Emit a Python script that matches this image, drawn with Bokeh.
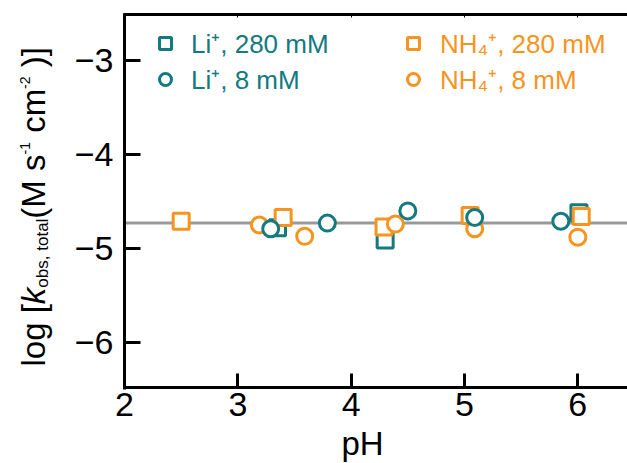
import math
from bokeh.plotting import figure
from bokeh.core.properties import value
from bokeh.models import (Range1d, LinearAxis, FixedTicker, Legend, LegendItem)
from bokeh.embed import file_html
from bokeh.resources import INLINE

# ---------------- data ----------------
li280_ph = [3.35, 4.30, 6.01]
li280_logk = [-4.78, -4.91, -4.62]

li8_ph = [3.29, 3.79, 4.50, 5.09, 5.85]
li8_logk = [-4.79, -4.73, -4.60, -4.67, -4.71]

nh280_ph = [2.50, 3.40, 4.29, 5.05, 6.03]
nh280_logk = [-4.71, -4.67, -4.77, -4.65, -4.66]

nh8_ph = [3.19, 3.59, 4.39, 5.09, 6.00]
nh8_logk = [-4.75, -4.87, -4.74, -4.79, -4.88]

mean_logk = -4.73

x_ticks = [2, 3, 4, 5, 6]
x_tick_labels = ["2", "3", "4", "5", "6"]
y_ticks = [-6, -5, -4, -3]
y_tick_labels = ["\u22126", "\u22125", "\u22124", "\u22123"]

legend_labels = ["Li\u207a, 280 mM", "Li\u207a, 8 mM",
                 "NH\u2084\u207a, 280 mM", "NH\u2084\u207a, 8 mM"]
x_label = "pH"
y_label_parts = ["log [", "k", "obs, total", "(M s", "-1", " cm", "-2", " )]"]

# ---------------- style / layout ----------------
FONT = "Liberation Sans"
TEAL = "#127a80"
ORANGE = "#f7941e"
GRAY = "#999999"

W, H = 627, 463
AX_LEFT_PX, AX_TOP_PX, AX_BOTTOM_PX = 124, 14, 387
PXU_X, PXU_Y = 113.33, 94.0          # pixels per unit
REF_X_PX, REF_Y_PX = 124, 60          # x=2 and y=-3 pixel positions
MID = 0.35                            # baseline -> middle offset (em)


def dx(px):
    return 2 + (px - REF_X_PX) / PXU_X


def dy(py):
    return -3 - (py - REF_Y_PX) / PXU_Y


X_START, X_END = dx(0), dx(W)
Y_START, Y_END = dy(H), dy(0)
AX_X0 = dx(AX_LEFT_PX)
AX_Y0, AX_Y1 = dy(AX_BOTTOM_PX), dy(AX_TOP_PX)

p = figure(width=W, height=H, x_range=Range1d(X_START, X_END),
           y_range=Range1d(Y_START, Y_END), output_backend="svg",
           toolbar_location=None, min_border=0, min_border_left=0,
           min_border_right=0, min_border_top=0, min_border_bottom=0,
           x_axis_location=None, y_axis_location=None)
p.title.visible = False
p.outline_line_color = None
p.background_fill_color = "white"
p.border_fill_color = "white"
for g in p.grid:
    g.visible = False


def style_axis(ax, tick_in, width=3):
    ax.axis_line_width = 3
    ax.axis_line_color = "black"
    ax.major_tick_line_width = width
    ax.major_tick_line_color = "black"
    ax.major_tick_in = tick_in
    ax.major_tick_out = 0
    ax.minor_tick_line_color = None
    ax.major_label_text_font = FONT
    ax.major_label_text_font_size = "34px"
    ax.major_label_text_color = "black"


ex_x = 1.5 / PXU_X
ex_y = 1.5 / PXU_Y

xb = LinearAxis(ticker=FixedTicker(ticks=x_ticks), fixed_location=AX_Y0,
                bounds=(AX_X0 - ex_x, X_END),
                major_label_overrides=dict(zip(x_ticks, x_tick_labels)))
style_axis(xb, 14)
xb.major_label_standoff = 5
p.add_layout(xb, "below")

yl = LinearAxis(ticker=FixedTicker(ticks=y_ticks), fixed_location=AX_X0,
                bounds=(AX_Y0 - ex_y, AX_Y1 + ex_y),
                major_label_overrides=dict(zip(y_ticks, y_tick_labels)))
style_axis(yl, 16)
yl.major_label_standoff = 11
p.add_layout(yl, "left")

xt = LinearAxis(ticker=FixedTicker(ticks=x_ticks), fixed_location=AX_Y1,
                bounds=(AX_X0 - ex_x, X_END),
                major_label_overrides={t: "" for t in x_ticks})
style_axis(xt, 3, width=1)
xt.major_label_standoff = 0
p.add_layout(xt, "above")

p.segment(x0=[AX_X0], y0=[mean_logk], x1=[X_END], y1=[mean_logk],
          line_color=GRAY, line_width=3)

mk = dict(size=16, line_width=3, fill_color="white")
r_li280 = p.scatter(li280_ph, li280_logk, marker="square", line_color=TEAL, **mk)
r_nh280 = p.scatter(nh280_ph, nh280_logk, marker="square", line_color=ORANGE, **mk)
r_nh8 = p.scatter(nh8_ph, nh8_logk, marker="circle", line_color=ORANGE, **mk)
r_li8 = p.scatter(li8_ph, li8_logk, marker="circle", line_color=TEAL, **mk)


def make_legend(items, color, left_px, standoff):
    lg = Legend(items=items, location=(left_px, H - 97),
                orientation="vertical",
                glyph_width=30, glyph_height=30, label_height=30,
                label_standoff=standoff, spacing=0, padding=0, margin=0,
                border_line_color=None, background_fill_alpha=0,
                label_text_font=FONT, label_text_font_size="26px",
                label_text_color=color)
    p.add_layout(lg, "center")


make_legend([LegendItem(label=legend_labels[0], renderers=[r_li280]),
             LegendItem(label=legend_labels[1], renderers=[r_li8])],
            TEAL, 150, 11)
make_legend([LegendItem(label=legend_labels[2], renderers=[r_nh280]),
             LegendItem(label=legend_labels[3], renderers=[r_nh8])],
            ORANGE, 398, 12)

# ---------------- rotated y-axis label with sub/superscripts ----------------
AFM = {' ': 278, '[': 278, ']': 278, '(': 333, ')': 333, 'l': 222, 'o': 556,
       'g': 556, 'k': 500, 'b': 556, 's': 500, ',': 278, 't': 278, 'a': 556,
       'M': 833, 'c': 500, 'm': 833, '1': 556, '2': 556, '-': 333}


def tw(s, size):
    return sum(AFM.get(ch, 556) for ch in s) * size / 1000.0


# (font size px, style, baseline x in canvas px)
piece_fmt = [(33, "normal", 45), (33, "italic", 45), (17, "normal", 48),
             (33, "normal", 45), (14, "normal", 29), (33, "normal", 45),
             (14, "normal", 29), (33, "normal", 45)]
cursor = 366.0          # canvas y (from top) where the label starts
for text, (size, style, base) in zip(y_label_parts, piece_fmt):
    stripped = text.lstrip(" ")
    cursor -= tw(text[:len(text) - len(stripped)], size)
    p.text(x=[dx(base - MID * size)], y=[dy(cursor)], text=[stripped],
           angle=math.pi / 2,
           text_align=value("left"), text_baseline=value("middle"),
           text_font=value(FONT), text_font_size=value(f"{size}px"),
           text_font_style=value(style), text_color=value("black"))
    cursor -= tw(stripped, size)

# ---------------- x-axis label ----------------
p.text(x=[dx(362)], y=[dy(455 - MID * 33)], text=[x_label],
       text_align=value("center"), text_baseline=value("middle"),
       text_font=value(FONT), text_font_size=value("33px"),
       text_color=value("black"))

open("out.html", "w").write(file_html(p, INLINE))
